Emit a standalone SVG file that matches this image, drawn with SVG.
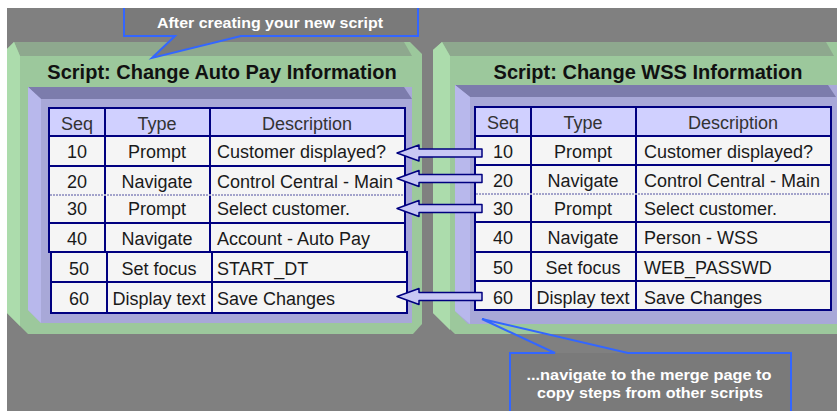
<svg xmlns="http://www.w3.org/2000/svg" width="837" height="411" viewBox="0 0 837 411">
<style>
.face{fill:#9cc89c}
.gl{fill:#acdcac}
.gt{fill:#8ea88e}
.pf{fill:#a8a8d8}
.pl{fill:#b8b8ec}
.pt{fill:#7c7cac}
.hdr{fill:#d0d0ff;stroke:#000080;stroke-width:2}
.cell{fill:#f5f5f5;stroke:#000080;stroke-width:2}
.ttl{font-family:"Liberation Sans",Arial,sans-serif;font-weight:bold;font-size:20px;fill:#111;text-anchor:middle}
.h{font-family:"Liberation Sans",Arial,sans-serif;font-size:18px;fill:#333;text-anchor:middle}
.c{font-family:"Liberation Sans",Arial,sans-serif;font-size:18px;fill:#1a1a1a;text-anchor:middle}
.d{font-family:"Liberation Sans",Arial,sans-serif;font-size:18px;fill:#1a1a1a}
.call{font-family:"Liberation Sans",Arial,sans-serif;font-weight:bold;font-size:15px;fill:#fff;text-anchor:middle}
.bl{fill:none;stroke:#3366ff;stroke-width:2}
.arr{fill:#c8c8f4;stroke:#000080;stroke-width:1.5;stroke-linejoin:round}
</style>
<rect x="0" y="0" width="837" height="411" fill="#ffffff"/>
<rect x="7" y="8" width="830" height="403" fill="#808080"/>

<g id="panel-left">
<polygon class="face" points="14,42 410,42 422,54 422,324 413,334 28,334 7,313 7,49"/>
<polygon class="gt" points="14,42 404,42 412,56 20,56"/>
<polygon class="gl" points="7,49 14,42 20,56 20,326 7,313"/>
<text class="ttl" x="222" y="79">Script: Change Auto Pay Information</text>
<polygon class="pf" points="28,87 412,87 412,323 41,323 28,310"/>
<polygon class="pt" points="28,87 404,87 412,99 41,99"/>
<polygon class="pl" points="28,87 41,99 41,323 28,310"/>
<g id="table-left">
<rect class="hdr" x="49" y="108" width="56" height="28"/>
<rect class="hdr" x="105" y="108" width="105" height="28"/>
<rect class="hdr" x="210" y="108" width="195" height="28"/>
<rect class="cell" x="49" y="136" width="56" height="30"/>
<rect class="cell" x="105" y="136" width="105" height="30"/>
<rect class="cell" x="210" y="136" width="195" height="30"/>
<rect class="cell" x="49" y="166" width="56" height="29"/>
<rect class="cell" x="105" y="166" width="105" height="29"/>
<rect class="cell" x="210" y="166" width="195" height="29"/>
<rect class="cell" x="49" y="195" width="56" height="28"/>
<rect class="cell" x="105" y="195" width="105" height="28"/>
<rect class="cell" x="210" y="195" width="195" height="28"/>
<line x1="50" y1="195" x2="404" y2="195" stroke="#f5f5f5" stroke-width="2"/>
<line x1="50" y1="195" x2="404" y2="195" stroke="#5050a0" stroke-width="1" stroke-dasharray="2,1"/>
<rect class="cell" x="49" y="223" width="56" height="29"/>
<rect class="cell" x="105" y="223" width="105" height="29"/>
<rect class="cell" x="210" y="223" width="195" height="29"/>
<rect class="cell" x="51" y="252" width="56" height="30"/>
<rect class="cell" x="107" y="252" width="105" height="30"/>
<rect class="cell" x="212" y="252" width="195" height="30"/>
<rect class="cell" x="51" y="282" width="56" height="31"/>
<rect class="cell" x="107" y="282" width="105" height="31"/>
<rect class="cell" x="212" y="282" width="195" height="31"/>
<text class="h" x="77" y="130">Seq</text>
<text class="h" x="157" y="130">Type</text>
<text class="h" x="307" y="130">Description</text>
<text class="c" x="77" y="158">10</text><text class="c" x="157" y="158">Prompt</text><text class="d" x="217" y="158">Customer displayed?</text>
<text class="c" x="77" y="188">20</text><text class="c" x="157" y="188">Navigate</text><text class="d" x="217" y="188">Control Central - Main</text>
<text class="c" x="77" y="215">30</text><text class="c" x="157" y="215">Prompt</text><text class="d" x="217" y="215">Select customer.</text>
<text class="c" x="77" y="245">40</text><text class="c" x="157" y="245">Navigate</text><text class="d" x="217" y="245">Account - Auto Pay</text>
<text class="c" x="79" y="275">50</text><text class="c" x="159" y="275">Set focus</text><text class="d" x="217" y="275">START_DT</text>
<text class="c" x="79" y="305">60</text><text class="c" x="159" y="305">Display text</text><text class="d" x="217" y="305">Save Changes</text>
</g>
</g>

<g id="panel-right">
<polygon class="face" points="442,42 837,42 837,334 455,334 433,313 433,50"/>
<polygon class="gt" points="442,42 826,42 834,56 450,56"/>
<polygon class="gl" points="433,50 442,42 450,56 450,330 433,313"/>
<text class="ttl" x="648" y="79">Script: Change WSS Information</text>
<polygon class="pf" points="455,85 837,85 837,324 468,324 455,311"/>
<polygon class="pt" points="455,85 828,85 836,97 470,97"/>
<polygon class="pl" points="455,85 470,97 470,324 455,311"/>
<g id="table-right">
<rect class="hdr" x="475" y="107" width="56" height="29"/>
<rect class="hdr" x="531" y="107" width="105" height="29"/>
<rect class="hdr" x="636" y="107" width="195" height="29"/>
<rect class="cell" x="475" y="136" width="56" height="29"/>
<rect class="cell" x="531" y="136" width="105" height="29"/>
<rect class="cell" x="636" y="136" width="195" height="29"/>
<rect class="cell" x="475" y="165" width="56" height="29"/>
<rect class="cell" x="531" y="165" width="105" height="29"/>
<rect class="cell" x="636" y="165" width="195" height="29"/>
<rect class="cell" x="475" y="194" width="56" height="28"/>
<rect class="cell" x="531" y="194" width="105" height="28"/>
<rect class="cell" x="636" y="194" width="195" height="28"/>
<line x1="476" y1="194" x2="830" y2="194" stroke="#f5f5f5" stroke-width="2"/>
<line x1="476" y1="194" x2="830" y2="194" stroke="#5050a0" stroke-width="1" stroke-dasharray="2,1"/>
<rect class="cell" x="475" y="222" width="56" height="30"/>
<rect class="cell" x="531" y="222" width="105" height="30"/>
<rect class="cell" x="636" y="222" width="195" height="30"/>
<rect class="cell" x="475" y="252" width="56" height="29"/>
<rect class="cell" x="531" y="252" width="105" height="29"/>
<rect class="cell" x="636" y="252" width="195" height="29"/>
<rect class="cell" x="475" y="281" width="56" height="29"/>
<rect class="cell" x="531" y="281" width="105" height="29"/>
<rect class="cell" x="636" y="281" width="195" height="29"/>
<text class="h" x="503" y="129">Seq</text>
<text class="h" x="583" y="129">Type</text>
<text class="h" x="733" y="129">Description</text>
<text class="c" x="503" y="158">10</text><text class="c" x="583" y="158">Prompt</text><text class="d" x="644" y="158">Customer displayed?</text>
<text class="c" x="503" y="187">20</text><text class="c" x="583" y="187">Navigate</text><text class="d" x="644" y="187">Control Central - Main</text>
<text class="c" x="503" y="215">30</text><text class="c" x="583" y="215">Prompt</text><text class="d" x="644" y="215">Select customer.</text>
<text class="c" x="503" y="244">40</text><text class="c" x="583" y="244">Navigate</text><text class="d" x="644" y="244">Person - WSS</text>
<text class="c" x="503" y="274">50</text><text class="c" x="583" y="274">Set focus</text><text class="d" x="644" y="274">WEB_PASSWD</text>
<text class="c" x="503" y="304">60</text><text class="c" x="583" y="304">Display text</text><text class="d" x="644" y="304">Save Changes</text>
</g>
</g>

<g id="connectors">
<polygon class="arr" points="397,153 419,145 419,149 482,149 482,157 419,157 419,161"/>
<polygon class="arr" points="397,178.5 419,170.5 419,174.5 482,174.5 482,182.5 419,182.5 419,186.5"/>
<polygon class="arr" points="397,208.5 419,200.5 419,204.5 482,204.5 482,212.5 419,212.5 419,216.5"/>
<polygon class="arr" points="397,296.5 419,288.5 419,292.5 482,292.5 482,300.5 419,300.5 419,304.5"/>
</g>

<g id="callout-top">
<rect x="124" y="8" width="294" height="28" fill="#7a7a7a"/>
<polygon points="175,35 152,58 241,35" fill="#7a7a7a"/>
<path class="bl" d="M124,8 V36 H175 L152,58 L241,36 H418 V8"/>
<text class="call" x="270" y="28" textLength="226" lengthAdjust="spacingAndGlyphs">After creating your new script</text>
</g>

<g id="callout-bottom">
<rect x="510" y="353" width="281" height="58" fill="#7a7a7a"/>
<path class="bl" d="M510,411 V353 H555 L482,319 L628,353 H791 V411"/>
<text class="call" x="649" y="380" textLength="245" lengthAdjust="spacingAndGlyphs">...navigate to the merge page to</text>
<text class="call" x="650" y="398" textLength="226" lengthAdjust="spacingAndGlyphs">copy steps from other scripts</text>
</g>
</svg>
